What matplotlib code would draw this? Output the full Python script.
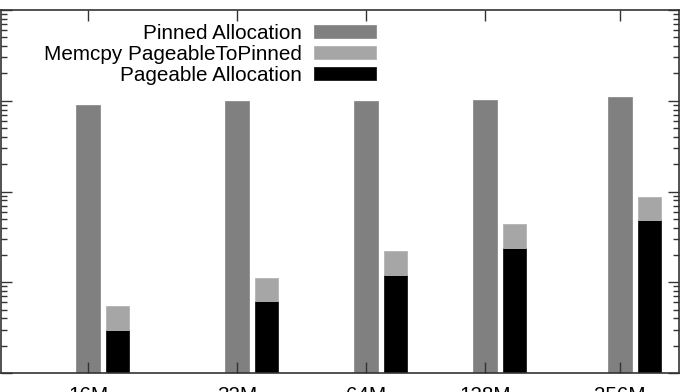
import numpy as np
import matplotlib.pyplot as plt
from matplotlib.ticker import LogLocator, NullFormatter, NullLocator

# data (y axis is log, labels cropped in the reference)
sizes = ['16M', '32M', '64M', '128M', '256M']
x_pos = [87, 236, 365, 484, 619]
pinned_alloc = [898, 993, 990, 1032, 1092]
pageable_alloc = [2.98, 6.27, 12.0, 24.0, 48.6]
memcpy_to_pinned = [2.49, 4.78, 10.1, 19.5, 39.1]

plt.rcParams['font.family'] = ['Liberation Sans', 'DejaVu Sans']
plt.rcParams['font.size'] = 14.9

fig = plt.figure(figsize=(6.87, 3.92), dpi=100)
ax = fig.add_axes([1 / 687, 19 / 392, 678 / 687, 363 / 392])
ax.set_yscale('log')

x = np.array(x_pos, dtype=float)
bw = 23.5
off = 29.5

p1 = ax.bar(x, pinned_alloc, width=bw, color='#808080', edgecolor='#8c8c8c', lw=0.6)
p3 = ax.bar(x + off, pageable_alloc, width=bw, color='#000000', edgecolor='#1a1a1a', lw=0.6)
p2 = ax.bar(x + off, memcpy_to_pinned, width=bw, bottom=pageable_alloc,
            color='#a6a6a6', edgecolor='#b4b4b4', lw=0.6)

ax.set_xlim(0, 678)
ax.set_ylim(1, 1e4)

ax.set_xticks(x)
ax.set_xticklabels(sizes)
ax.xaxis.set_minor_locator(NullLocator())
ax.yaxis.set_major_locator(LogLocator(base=10))
ax.yaxis.set_minor_locator(LogLocator(base=10, subs=np.arange(2, 10)))
ax.yaxis.set_major_formatter(NullFormatter())
ax.yaxis.set_minor_formatter(NullFormatter())

ax.tick_params(which='both', direction='in', top=True, right=True, width=1, color='#333333')
ax.tick_params(which='major', length=8)
ax.tick_params(which='minor', length=4)
ax.tick_params(axis='x', pad=9.5)

for s in ax.spines.values():
    s.set_linewidth(1.2)
    s.set_color('#333333')

ax.legend([p1, p2, p3],
          ['Pinned Allocation', 'Memcpy PageableToPinned', 'Pageable Allocation'],
          loc='upper right', bbox_to_anchor=(0.553, 0.962), frameon=False,
          markerfirst=False, handlelength=3.0, handleheight=0.58,
          handletextpad=0.6, labelspacing=0.1, borderpad=0, borderaxespad=0)

fig.savefig('out.png', dpi=100)
